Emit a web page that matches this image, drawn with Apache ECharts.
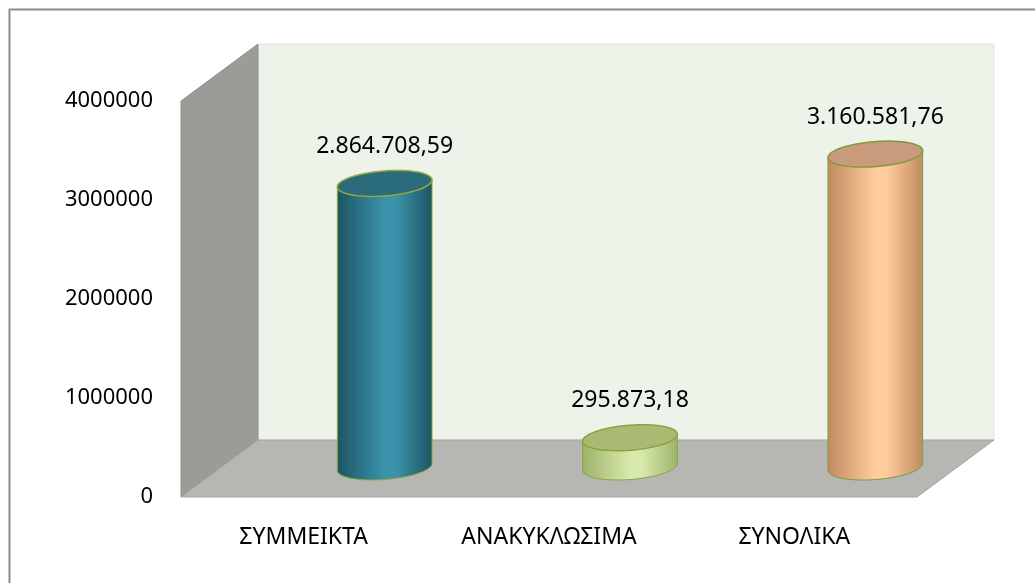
<!DOCTYPE html>
<html>
<head>
<meta charset="utf-8">
<title>Cylinders</title>
<script src="https://cdn.jsdelivr.net/npm/echarts@6/dist/echarts.min.js"></script>
<style>
  html, body { margin: 0; padding: 0; background: #fff; }
  #chart { width: 1035px; height: 583px; }
</style>
</head>
<body>
<div id="chart"></div>
<script>
// data
var categories = ['ΣΥΜΜΕΙΚΤΑ', 'ΑΝΑΚΥΚΛΩΣΙΜΑ', 'ΣΥΝΟΛΙΚΑ'];
var values = [2864708.59, 295873.18, 3160581.76];
var yMin = 0;
var yMax = 4000000;
var yStep = 1000000;

// cylinder looks: edge, middle, top cap, rim
var bodyEdge = ['#1d5563', '#9db26a', '#c08a5f'];
var bodyMid = ['#3a93aa', '#d8eaab', '#ffcd9c'];
var capFill = ['#2a6b7c', '#a9bb73', '#c99a7c'];
var rimColor = ['#95a83c', '#8fa043', '#7f9b3d'];

var FONT = '"Noto Sans", "DejaVu Sans", sans-serif';
var depth = [77, -57];   // back wall offset from the front plane
var cylShift = [81, -30]; // where the cylinders stand
var rx = 47.5, ry = 12.5, tilt = -4.5 * Math.PI / 180;

function greek(v) {
    var parts = v.toFixed(2).split('.');
    return parts[0].replace(/\B(?=(\d{3})+(?!\d))/g, '.') + ',' + parts[1];
}

function ellPt(cx, cy, t) {
    var x = rx * Math.cos(t), y = ry * Math.sin(t);
    return [cx + x * Math.cos(tilt) - y * Math.sin(tilt),
            cy + x * Math.sin(tilt) + y * Math.cos(tilt)];
}

function ellPts(cx, cy, t0, t1, n) {
    var pts = [];
    for (var i = 0; i <= n; i++) {
        pts.push(ellPt(cx, cy, t0 + (t1 - t0) * i / n));
    }
    return pts;
}

function renderWalls(params, api) {
    var cs = params.coordSys;
    var x0 = cs.x, y0 = cs.y, x1 = cs.x + cs.width, y1 = cs.y + cs.height;
    var dx = depth[0], dy = depth[1];
    return {
        type: 'group',
        children: [
            { type: 'rect', shape: { x: x0 + dx, y: y0 + dy, width: cs.width, height: cs.height },
              style: { fill: '#eef3ea', stroke: '#e2e7de', lineWidth: 1 } },
            { type: 'polygon', shape: { points: [[x0, y0], [x0 + dx, y0 + dy], [x0 + dx, y1 + dy], [x0, y1]] },
              style: { fill: '#9b9c98', stroke: '#8e8f8b', lineWidth: 1 } },
            { type: 'polygon', shape: { points: [[x0, y1], [x0 + dx, y1 + dy], [x1 + dx, y1 + dy], [x1, y1]] },
              style: { fill: '#b6b7b3', stroke: '#a3a4a0', lineWidth: 1 } }
        ]
    };
}

function renderCylinder(params, api) {
    var i = api.value(0);
    var v = api.value(1);
    var base = api.coord([i, 0]);
    var top = api.coord([i, v]);
    var cx = base[0] + cylShift[0];
    var by = base[1] + cylShift[1];
    var ty = top[1] + cylShift[1];
    var body = [ellPt(cx, ty, 0)]
        .concat(ellPts(cx, by, 0, Math.PI, 40))
        .concat([ellPt(cx, ty, Math.PI)]);
    return {
        type: 'group',
        children: [
            { type: 'polygon', shape: { points: body },
              style: {
                  fill: new echarts.graphic.LinearGradient(0, 0, 1, 0, [
                      { offset: 0, color: bodyEdge[i] },
                      { offset: 0.5, color: bodyMid[i] },
                      { offset: 0.62, color: bodyMid[i] },
                      { offset: 1, color: bodyEdge[i] }
                  ]),
                  stroke: rimColor[i], lineWidth: 1
              } },
            { type: 'polygon', shape: { points: ellPts(cx, ty, 0, Math.PI * 2, 60) },
              style: { fill: capFill[i], stroke: rimColor[i], lineWidth: 1.5 } },
            { type: 'text', x: cx, y: ty - 37,
              style: { text: greek(v), fill: '#000', font: '23px ' + FONT,
                       align: 'center', verticalAlign: 'middle' } }
        ]
    };
}

var chart = echarts.init(document.getElementById('chart'));
chart.setOption({
    animation: false,
    backgroundColor: '#fff',
    graphic: [{
        type: 'rect', left: 7, top: 7, z: -10,
        shape: { width: 1040, height: 600 },
        style: { fill: 'none', stroke: '#8c8c8c', lineWidth: 2 }
    }],
    grid: { left: 181, top: 101, right: 118, bottom: 86 },
    xAxis: {
        type: 'category',
        data: categories,
        axisLine: { show: false },
        axisTick: { show: false },
        axisLabel: { margin: 29, fontSize: 23, color: '#000', fontFamily: FONT }
    },
    yAxis: {
        type: 'value',
        min: yMin, max: yMax, interval: yStep,
        splitLine: { show: false },
        axisLine: { show: false },
        axisTick: { show: false },
        axisLabel: { margin: 28, fontSize: 22, color: '#000', fontFamily: FONT,
                     formatter: function (v) { return String(v); } }
    },
    series: [
        { type: 'custom', renderItem: renderWalls, data: [[0, 0]], z: 1, silent: true },
        { type: 'custom', renderItem: renderCylinder, z: 2,
          data: values.map(function (v, i) { return [i, v]; }) }
    ]
});
</script>
</body>
</html>
